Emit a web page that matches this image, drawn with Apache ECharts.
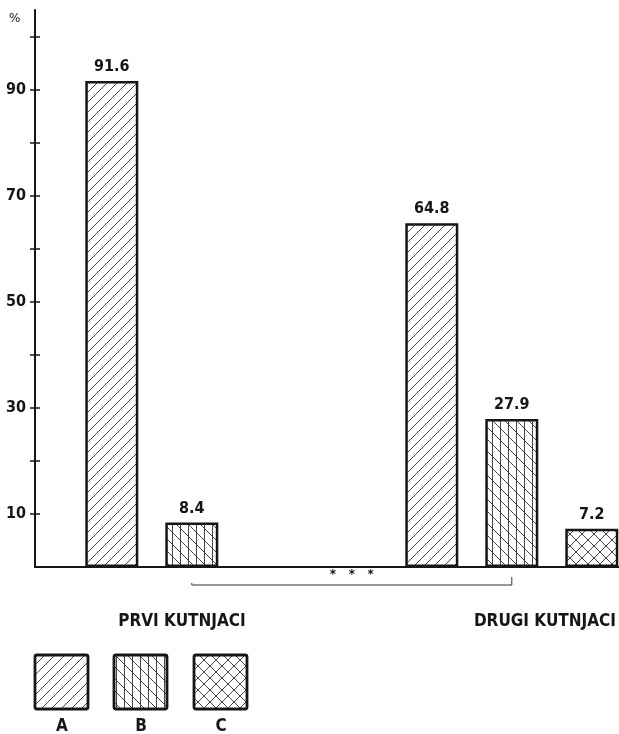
<!DOCTYPE html>
<html><head><meta charset="utf-8">
<script src="https://cdn.jsdelivr.net/npm/echarts@6/dist/echarts.min.js"></script>
<style>html,body{margin:0;padding:0;background:#fff}#c{width:619px;height:734px}</style>
</head><body><div id="c"></div>
<script>
const groups = ['PRVI KUTNJACI', 'DRUGI KUTNJACI'];
const seriesNames = ['A', 'B', 'C'];
const valuesA = [91.6, 64.8];
const valuesB = [8.4, 27.9];
const valuesC = [null, 7.2];
const yLabelTicks = [10, 30, 50, 70, 90];
const yMinorTicks = [10, 20, 30, 40, 50, 60, 70, 80, 90, 100];

const FONT = '"DejaVu Sans Condensed", "Liberation Sans Narrow", sans-serif';
const INK = '#161616';

function makePattern(type) {
  const s = type === 'C' ? 12 : (type === 'B' ? 24 : 10);
  const cv = document.createElement('canvas');
  cv.width = s; cv.height = s;
  const c = cv.getContext('2d');
  c.fillStyle = '#fff'; c.fillRect(0, 0, s, s);
  c.strokeStyle = '#303030'; c.lineWidth = 0.9;
  c.beginPath();
  if (type === 'A' || type === 'C') {
    for (let k = -1; k <= 1; k++) { c.moveTo(k * s, s); c.lineTo(k * s + s, 0); }
  }
  if (type === 'C') {
    for (let k = -1; k <= 1; k++) { c.moveTo(k * s, 0); c.lineTo(k * s + s, s); }
  }
  if (type === 'B') {
    for (let k = -2; k <= 2; k++) { c.moveTo(k * 12, 0); c.lineTo(k * 12 + s, s); }
    for (let x = 4.5; x < s; x += 8) { c.moveTo(x, 0); c.lineTo(x, s); }
  }
  c.stroke();
  return { image: cv, repeat: 'repeat' };
}
const patterns = { A: makePattern('A'), B: makePattern('B'), C: makePattern('C') };
const allValues = [valuesA, valuesB, valuesC];

const series = seriesNames.map((name, si) => ({
  name, type: 'bar', barWidth: 53, barGap: '-100%',
  data: allValues[si].map((v, g) => v == null ? null : [g * 4 + si + 1, v]).filter(d => d),
  itemStyle: { color: patterns[name], borderColor: INK, borderWidth: 2.5 },
  label: { show: true, position: 'top', distance: 6, color: INK, fontFamily: FONT,
           fontWeight: 'bold', fontSize: 16, formatter: p => p.value[1].toFixed(1) }
}));

const yBase = {
  type: 'value', min: 0, max: 105, interval: 10, position: 'left',
  splitLine: { show: false }
};

const chart = echarts.init(document.getElementById('c'));
chart.setOption({
  animation: false,
  backgroundColor: '#fff',
  grid: { left: 35, right: 0, top: 10, bottom: 167 },
  xAxis: { type: 'value', min: 0.04, max: 7.34, axisLabel: { show: false }, axisTick: { show: false },
           splitLine: { show: false }, axisLine: { show: true, onZero: true, lineStyle: { color: INK, width: 2 } } },
  yAxis: [
    Object.assign({}, yBase, {
      axisLine: { show: true, lineStyle: { color: INK, width: 2 } },
      axisTick: { show: true, length: 5, customValues: yMinorTicks, lineStyle: { color: INK, width: 1.5 } },
      axisLabel: { show: true, margin: 9, customValues: yLabelTicks, color: INK, fontFamily: FONT,
                   fontWeight: 'bold', fontSize: 16 }
    }),
    Object.assign({}, yBase, {
      axisLine: { show: false },
      axisTick: { show: true, inside: true, length: 5, customValues: yMinorTicks, lineStyle: { color: INK, width: 1.5 } },
      axisLabel: { show: false, customValues: yLabelTicks }
    })
  ],
  series
});

const p2 = chart.convertToPixel({ gridIndex: 0 }, [2, 0]);
const p6 = chart.convertToPixel({ gridIndex: 0 }, [6, 0]);
const by = p2[1] + 18;
const graphic = [
  { type: 'text', left: 9, top: 13, style: { text: '%', font: '12px "DejaVu Sans", sans-serif', fill: INK } },
  { type: 'polyline', shape: { points: [[p2[0], by - 2], [p2[0], by], [p6[0], by], [p6[0], by - 8]] },
    style: { stroke: '#333', lineWidth: 1, fill: null } },
  { type: 'text', x: (p2[0] + p6[0]) / 2, y: by - 4,
    style: { text: '*   *   *', font: 'bold 12px "DejaVu Sans", sans-serif', fill: INK, align: 'center', verticalAlign: 'bottom' } },
  { type: 'text', x: 182, y: 622, style: { text: groups[0], font: 'bold 17px ' + FONT, fill: INK, align: 'center', verticalAlign: 'middle' } },
  { type: 'text', x: 616, y: 622, style: { text: groups[1], font: 'bold 17px ' + FONT, fill: INK, align: 'right', verticalAlign: 'middle' } }
];
const legendX = [35, 114, 194];
seriesNames.forEach((n, i) => {
  graphic.push({ type: 'rect', shape: { x: legendX[i], y: 655, width: 53, height: 54, r: 2 },
    style: { fill: patterns[n], stroke: INK, lineWidth: 2.8 } });
  graphic.push({ type: 'text', x: legendX[i] + 27, y: 727,
    style: { text: n, font: 'bold 17px ' + FONT, fill: INK, align: 'center', verticalAlign: 'middle' } });
});
chart.setOption({ graphic });
</script>
</body></html>
